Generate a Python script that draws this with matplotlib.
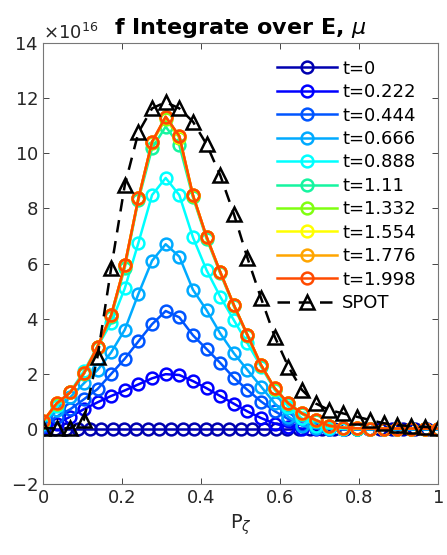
import numpy as np
import matplotlib
matplotlib.use("Agg")
import matplotlib.pyplot as plt

# P_zeta grid (30 points from 0 to 1); the t=0 curve sits on a finer grid
p_zeta = np.linspace(0, 1, 30)
p_zeta_t0 = np.linspace(0, 1, 35)

t_labels = ["t=0", "t=0.222", "t=0.444", "t=0.666", "t=0.888",
            "t=1.11", "t=1.332", "t=1.554", "t=1.776", "t=1.998"]
colors = ["#0000B0", "#0000FF", "#0055FF", "#00AAFF", "#00FFFF",
          "#15F5A0", "#80FF10", "#FFFF00", "#FFA500", "#FF4A00"]

# values in units of 1e16
f_t0 = [0.0] * 35
f_t0222 = [0.03, 0.2, 0.45, 0.72, 0.97, 1.2, 1.4, 1.62, 1.84, 1.99,
           1.96, 1.74, 1.48, 1.2, 0.92, 0.64, 0.4, 0.2, 0.07, 0.02,
           0, 0, 0, 0, 0, 0, 0, 0, 0, 0]
f_t0444 = [0.12, 0.45, 0.72, 1.08, 1.45, 2.0, 2.55, 3.18, 3.8, 4.28,
           4.05, 3.4, 2.9, 2.4, 1.86, 1.42, 1.0, 0.65, 0.36, 0.16,
           0.05, 0.02, 0, 0, 0, 0, 0, 0, 0, 0]
f_t0666 = [0.18, 0.7, 1.15, 1.66, 2.14, 2.78, 3.6, 4.9, 6.1, 6.7,
           6.25, 5.05, 4.31, 3.47, 2.75, 2.14, 1.54, 0.93, 0.45, 0.12,
           0.03, 0.01, 0, 0, 0, 0, 0, 0, 0, 0]
f_t0888 = [0.22, 0.82, 1.35, 2.1, 2.99, 3.85, 5.1, 6.75, 8.48, 9.1,
           8.48, 6.95, 5.76, 4.8, 3.95, 3.11, 2.26, 1.42, 0.81, 0.39,
           0.12, 0.03, 0.01, 0, 0, 0, 0, 0, 0, 0]
f_t111 = [0.25, 0.9, 1.33, 2.0, 2.95, 4.05, 5.85, 8.3, 10.17, 10.96,
          10.29, 8.4, 6.9, 5.65, 4.45, 3.38, 2.3, 1.46, 0.92, 0.55,
          0.3, 0.1, 0.04, 0.02, 0.01, 0.01, 0.01, 0.01, 0.01, 0.01]
f_t1332 = [0.27, 0.92, 1.33, 2.02, 2.98, 4.12, 5.93, 8.36, 10.38, 11.25,
           10.56, 8.46, 6.96, 5.69, 4.5, 3.4, 2.31, 1.47, 0.93, 0.57,
           0.32, 0.12, 0.05, 0.03, 0.02, 0.02, 0.02, 0.02, 0.02, 0.02]
f_t1554 = [0.28, 0.93, 1.33, 2.02, 2.99, 4.13, 5.95, 8.36, 10.4, 11.3,
           10.6, 8.48, 6.97, 5.7, 4.5, 3.41, 2.32, 1.48, 0.93, 0.57,
           0.33, 0.12, 0.05, 0.03, 0.02, 0.02, 0.02, 0.02, 0.02, 0.02]
f_t1776 = [0.28, 0.93, 1.33, 2.02, 2.99, 4.13, 5.95, 8.36, 10.41, 11.32,
           10.62, 8.48, 6.97, 5.7, 4.5, 3.41, 2.32, 1.48, 0.93, 0.57,
           0.33, 0.12, 0.05, 0.03, 0.02, 0.02, 0.02, 0.02, 0.02, 0.02]
f_t1998 = [0.28, 0.93, 1.33, 2.02, 2.99, 4.13, 5.95, 8.36, 10.41, 11.32,
           10.62, 8.48, 6.97, 5.7, 4.5, 3.41, 2.32, 1.48, 0.93, 0.57,
           0.33, 0.12, 0.05, 0.03, 0.02, 0.02, 0.02, 0.02, 0.02, 0.02]
f_spot = [0.03, 0.03, 0.03, 0.33, 2.62, 5.83, 8.84, 10.75, 11.62, 11.85,
          11.62, 11.14, 10.32, 9.2, 7.8, 6.2, 4.74, 3.35, 2.26, 1.42,
          0.93, 0.69, 0.57, 0.45, 0.33, 0.21, 0.15, 0.1, 0.08, 0.05]

curves = [f_t0, f_t0222, f_t0444, f_t0666, f_t0888,
          f_t111, f_t1332, f_t1554, f_t1776, f_t1998]

fig = plt.figure(figsize=(4.47, 5.55), dpi=100)
ax = fig.add_axes([0.0962, 0.1274, 0.8843, 0.7956])

for vals, c, lab in zip(curves, colors, t_labels):
    xs = p_zeta_t0 if len(vals) == len(p_zeta_t0) else p_zeta
    ax.plot(xs, np.array(vals) * 1e16, "-o", color=c, lw=1.8,
            ms=8.5, mfc="none", mew=1.8, label=lab)
ax.plot(p_zeta, np.array(f_spot) * 1e16, "--^", color="black", lw=1.8,
        ms=10, mfc="none", mew=1.8, dashes=(5, 3.5), label="SPOT")

ax.set_xlim(0, 1)
ax.set_ylim(-2e16, 14e16)
ax.set_xticks(np.arange(0, 1.01, 0.2))
ax.set_xticklabels(["0", "0.2", "0.4", "0.6", "0.8", "1"])
ax.set_yticks(np.arange(-2, 15, 2) * 1e16)
ax.ticklabel_format(axis="y", style="sci", scilimits=(16, 16), useMathText=True)
ax.yaxis.get_offset_text().set_fontsize(13)
ax.yaxis.get_offset_text().set_color("#262626")

ax.tick_params(direction="in", top=True, right=True, labelsize=13,
               colors="#262626", length=4, width=0.6)
for s in ax.spines.values():
    s.set_color("#777777")
    s.set_linewidth(0.8)

ax.set_title(r"f Integrate over E, $\mu$", fontsize=16, fontweight="bold", pad=6)
ax.set_xlabel(r"P$_\zeta$", fontsize=14, color="#262626")

ax.legend(loc="upper right", frameon=False, fontsize=13, handlelength=3.3,
          labelspacing=0.3, handletextpad=0.3, borderaxespad=0.3,
          bbox_to_anchor=(0.975, 0.99))

fig.savefig("out.png", dpi=100)
